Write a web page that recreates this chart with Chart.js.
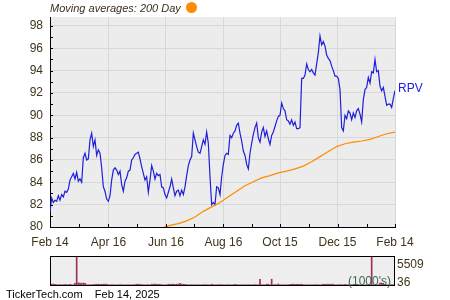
<!DOCTYPE html>
<html>
<head>
<meta charset="utf-8">
<script src="https://cdn.jsdelivr.net/npm/chart.js@4.4.1/dist/chart.umd.min.js"></script>
<style>
  body { margin: 0; background: #fff; font-family: "Liberation Sans", Arial, sans-serif; }
  #wrap { position: relative; width: 450px; height: 300px; overflow: hidden; }
  canvas { position: absolute; left: 0; }
  .txt { position: absolute; white-space: nowrap; line-height: 1; }
</style>
</head>
<body>
<div id="wrap">
  <canvas id="priceChart" width="450" height="250" style="top:0"></canvas>
  <canvas id="volumeChart" width="450" height="40" style="top:250px"></canvas>
  <div class="txt" style="left:50px;top:3px;font-size:11px;font-style:italic;color:#3b3020">Moving averages: 200 Day</div>
  <div style="position:absolute;left:186px;top:2px;width:11px;height:11px;border-radius:50%;background:#ff8c00"></div>
  <div class="txt" style="left:398px;top:82px;font-size:12px;color:#2020d8">RPV</div>
  <div class="txt" style="left:397px;top:258px;font-size:12px;color:#40341a">5509</div>
  <div class="txt" style="left:397px;top:276px;font-size:12px;color:#40341a">36</div>
  <div class="txt" style="left:348px;top:275px;font-size:12px;color:#3e6b4f">(1000's)</div>
  <div class="txt" style="left:6px;top:289px;font-size:11px;color:#000">TickerTech.com&nbsp;&nbsp;&nbsp;&nbsp;Feb 14, 2025</div>
</div>
<script>
// x axis: calendar days since Feb 14, 2024
const dayTicks = [0, 62, 123, 184, 244, 305, 366];
const dayLabels = ['Feb 14', 'Apr 16', 'Jun 16', 'Aug 16', 'Oct 15', 'Dec 15', 'Feb 14'];
const minorDays = [31, 92, 153, 214, 275, 336];
const priceTicks = [80, 82, 84, 86, 88, 90, 92, 94, 96, 98];

// RPV closing prices, evenly spaced over the year
const prices = [
  81.3, 82.6, 82.2, 82.4, 82.3, 82.8, 82.4, 82.9, 82.7, 83.2,
  83.1, 83.4, 84.2, 84.5, 84.8, 84.3, 84.9, 84.1, 84.3, 84.0,
  86.2, 86.6, 86.0, 86.1, 87.8, 88.4, 87.2, 87.8, 86.4, 86.9,
  86.6, 85.3, 83.6, 83.2, 82.5, 82.3, 82.8, 84.2, 85.1, 85.3,
  85.1, 84.7, 85.0, 83.8, 83.2, 84.1, 84.4, 85.0, 85.1, 86.0,
  86.2, 86.5, 86.6, 86.7, 86.1, 85.4, 84.8, 84.2, 84.5, 83.1,
  84.2, 85.5, 85.0, 84.3, 84.8, 84.6, 84.7, 83.6, 83.5, 82.9,
  82.6, 83.1, 83.6, 84.3, 83.5, 82.8, 83.2, 83.3, 82.8, 83.3,
  82.9, 83.6, 84.6, 85.5, 86.0, 86.3, 88.4, 87.8, 87.2, 86.7,
  86.6, 87.2, 87.8, 87.4, 88.5, 87.5, 84.5, 82.0, 82.2, 82.0,
  83.6, 83.5, 82.9, 84.5, 85.6, 86.4, 86.6, 86.5, 88.2, 88.0,
  88.4, 88.6, 89.1, 89.3, 88.4, 87.7, 86.8, 86.4, 85.6, 85.2,
  86.6, 87.5, 88.3, 88.9, 89.3, 88.0, 87.6, 88.5, 88.9, 88.1,
  88.6, 87.9, 87.4, 88.2, 88.5, 89.0, 89.5, 89.9, 90.0, 91.1,
  90.6, 90.4, 89.6, 89.5, 89.2, 89.6, 89.1, 89.4, 88.8, 88.8,
  88.9, 93.3, 93.3, 93.6, 94.6, 94.1, 93.9, 94.1, 93.8, 93.6,
  94.6, 95.6, 97.1, 96.3, 96.6, 96.2, 95.4, 95.1, 94.9, 94.4,
  94.0, 93.5, 93.5, 93.3, 92.3, 88.9, 88.6, 90.0, 89.7, 90.4,
  90.2, 89.6, 90.2, 89.8, 90.4, 90.6, 90.1, 89.4, 91.4, 92.3,
  92.5, 93.4, 92.9, 93.9, 93.8, 95.0, 93.9, 94.0, 92.6, 92.2,
  92.5, 91.7, 90.9, 91.0, 91.0, 90.7, 91.5, 92.2
];

// 200 day moving average, every 5th sample starting at sample 67
const maStart = 67;
const maStep = 5;
const maValues = [
  79.9, 80.15, 80.3, 80.55, 80.9, 81.4, 81.8, 82.2, 82.7, 83.2,
  83.7, 84.05, 84.4, 84.6, 84.85, 85.0, 85.2, 85.45, 85.85, 86.3,
  86.75, 87.2, 87.45, 87.6, 87.7, 87.85, 88.1, 88.35, 88.5
];

// volume in thousands, same sampling as prices
const volumes = [
  200, 150, 180, 120, 60, 50, 70, 45, 60, 150,
  55, 60, 150, 50, 45, 300, 5509, 400, 350, 300,
  380, 320, 60, 50, 45, 60, 70, 150, 140, 160,
  150, 130, 150, 170, 140, 60, 50, 45, 60, 55,
  50, 45, 60, 55, 50, 45, 60, 50, 55, 48,
  52, 60, 150, 160, 140, 55, 50, 45, 60, 55,
  50, 150, 140, 160, 150, 130, 150, 55, 50, 45,
  60, 150, 140, 160, 150, 130, 150, 170, 300, 150,
  140, 150, 55, 50, 45, 60, 55, 50, 45, 60,
  55, 50, 45, 60, 55, 50, 45, 150, 60, 55,
  50, 45, 60, 55, 50, 45, 60, 55, 50, 45,
  60, 150, 55, 50, 45, 60, 55, 50, 45, 60,
  55, 50, 45, 60, 55, 50, 1080, 55, 50, 45,
  150, 160, 55, 1100, 45, 60, 55, 200, 50, 45,
  60, 55, 50, 45, 150, 140, 160, 150, 130, 150,
  140, 150, 55, 50, 45, 60, 55, 50, 45, 60,
  55, 50, 45, 60, 150, 140, 160, 150, 130, 150,
  140, 55, 50, 45, 60, 55, 50, 150, 50, 45,
  60, 55, 50, 45, 60, 55, 50, 45, 60, 55,
  50, 45, 60, 5450, 55, 50, 45, 60, 350, 380,
  320, 60, 55, 50, 45, 60, 55, 36
];

const totalDays = 366;
const sampleDay = i => i * totalDays / (prices.length - 1);
const labelFont = { family: '"Liberation Sans", Arial, sans-serif', size: 12 };
const labelColor = '#40341a';

const plotBackground = {
    id: 'plotBackground',
    beforeDraw(chart) {
        const a = chart.chartArea;
        const ctx = chart.ctx;
        ctx.save();
        ctx.fillStyle = '#ececec';
        ctx.fillRect(a.left, a.top, a.right - a.left, a.bottom - a.top);
        ctx.restore();
    }
};

// small inward tick marks on both axes
const innerTicks = {
    id: 'innerTicks',
    afterDraw(chart) {
        const a = chart.chartArea;
        const ctx = chart.ctx;
        const xs = chart.scales.x, ys = chart.scales.y;
        ctx.save();
        ctx.strokeStyle = '#000';
        ctx.lineWidth = 1;
        ctx.beginPath();
        for (let v = 80; v <= 98; v++) {
            const y = Math.round(ys.getPixelForValue(v)) + 0.5;
            ctx.moveTo(a.left, y);
            ctx.lineTo(a.left + 3, y);
        }
        dayTicks.concat(minorDays).forEach(d => {
            const x = Math.round(xs.getPixelForValue(d)) + 0.5;
            ctx.moveTo(x, a.bottom);
            ctx.lineTo(x, a.bottom - 3);
        });
        ctx.stroke();
        ctx.restore();
    }
};

const priceCtx = document.getElementById('priceChart').getContext('2d');
let priceChart = new Chart(priceCtx, {
    type: 'line',
    data: {
        datasets: [{
            label: '200 Day',
            data: maValues.map((v, k) => ({ x: sampleDay(maStart + k * maStep), y: v })),
            borderColor: '#ff8c00',
            borderWidth: 1.2,
            pointRadius: 0,
            tension: 0
        }, {
            label: 'RPV',
            data: prices.map((v, i) => ({ x: sampleDay(i), y: v })),
            borderColor: '#1f1fdb',
            borderWidth: 1.2,
            pointRadius: 0,
            tension: 0
        }]
    },
    options: {
        responsive: false,
        animation: false,
        layout: { padding: { left: 0, right: 55, top: 17, bottom: 0 } },
        plugins: { legend: { display: false }, tooltip: { enabled: false } },
        scales: {
            x: {
                type: 'linear',
                min: 0,
                max: totalDays,
                afterBuildTicks: s => { s.ticks = dayTicks.map(v => ({ value: v })); },
                afterFit: s => { s.height = 23; },
                ticks: {
                    callback: (v, idx) => dayLabels[idx],
                    font: labelFont,
                    color: labelColor,
                    padding: 8,
                    maxRotation: 0,
                    autoSkip: false
                },
                grid: { color: '#d8d8d8', drawTicks: false },
                border: { color: '#000', width: 1 }
            },
            y: {
                min: 80,
                max: 98.8,
                afterBuildTicks: s => { s.ticks = priceTicks.map(v => ({ value: v })); },
                afterFit: s => { s.width = 50; },
                ticks: { font: labelFont, color: labelColor, padding: 7 },
                grid: { color: '#d8d8d8', drawTicks: false },
                border: { color: '#000', width: 1 }
            }
        }
    },
    plugins: [plotBackground, innerTicks]
});

const volumeFrame = {
    id: 'volumeFrame',
    beforeDraw(chart) {
        const a = chart.chartArea;
        const ctx = chart.ctx;
        ctx.save();
        ctx.fillStyle = '#eeeeee';
        ctx.fillRect(a.left, a.top, a.right - a.left, a.bottom - a.top);
        ctx.restore();
    },
    afterDraw(chart) {
        const a = chart.chartArea;
        const ctx = chart.ctx;
        ctx.save();
        ctx.strokeStyle = '#000';
        ctx.lineWidth = 1;
        ctx.strokeRect(a.left + 0.5, a.top + 0.5, a.right - a.left - 1, a.bottom - a.top);
        ctx.restore();
    }
};

const volCtx = document.getElementById('volumeChart').getContext('2d');
let volumeChart = new Chart(volCtx, {
    type: 'bar',
    data: {
        datasets: [{
            label: 'Volume',
            data: volumes.map((v, i) => ({ x: sampleDay(i), y: v })),
            backgroundColor: '#9c2f5d',
            barThickness: 1
        }]
    },
    options: {
        responsive: false,
        animation: false,
        layout: { padding: { left: 50, right: 55, top: 6, bottom: 5 } },
        plugins: { legend: { display: false }, tooltip: { enabled: false } },
        scales: {
            x: { type: 'linear', min: 0, max: totalDays, offset: false, display: false },
            y: { min: 0, max: 5509, display: false }
        }
    },
    plugins: [volumeFrame]
});
</script>
</body>
</html>
